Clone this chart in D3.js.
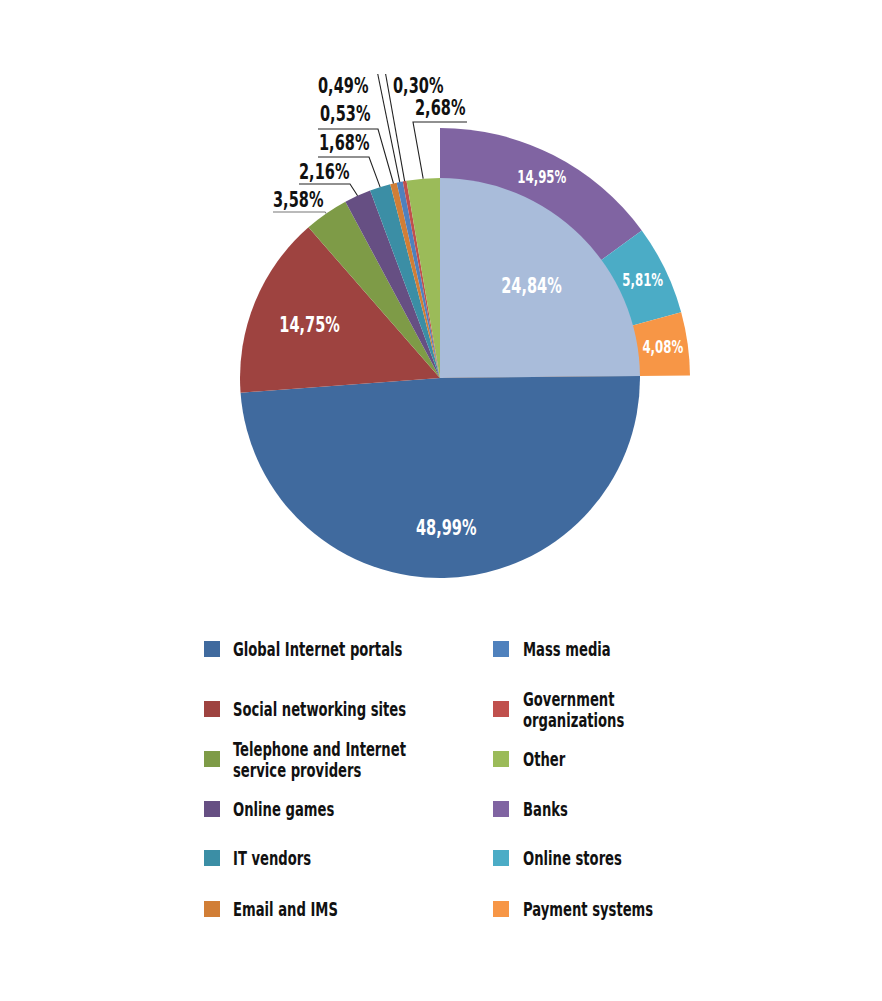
<!DOCTYPE html>
<html>
<head>
<meta charset="utf-8">
<script src="https://cdn.jsdelivr.net/npm/d3@7"></script>
<style>
  body { margin: 0; background: #ffffff; }
  svg text {
    font-family: "Liberation Sans Narrow", "Arial Narrow", "DejaVu Sans Condensed", sans-serif;
    font-weight: bold;
  }
</style>
</head>
<body>
<svg id="chart" width="882" height="1001"></svg>
<script>
// Main pie slices, clockwise after the broken-out group
let categories = ["Global Internet portals", "Social networking sites",
  "Telephone and Internet service providers", "Online games", "IT vendors",
  "Email and IMS", "Mass media", "Government organizations", "Other"];
let shares = [48.99, 14.75, 3.58, 2.16, 1.68, 0.53, 0.49, 0.30, 2.68];
let colors = ["#406A9E", "#9E4340", "#7E9B47", "#664F83", "#3B8EA5",
  "#D17E36", "#4F81BD", "#C0504D", "#9BBB59"];

// Group broken out into the outer ring (its sum is the light wedge)
let ringCategories = ["Banks", "Online stores", "Payment systems"];
let ringShares = [14.95, 5.81, 4.08];
let ringColors = ["#8064A2", "#4BACC6", "#F79646"];
let groupColor = "#A9BCDA";

// Legend columns
let legendLeft = ["Global Internet portals", "Social networking sites",
  "Telephone and Internet service providers", "Online games", "IT vendors", "Email and IMS"];
let legendRight = ["Mass media", "Government organizations", "Other", "Banks",
  "Online stores", "Payment systems"];

let svg = d3.select("#chart");
let cx = 440, cy = 378;
let radius = 200, ringRadius = 250;
let squeezeBy = 0.77; // no condensed bold font here, so narrow the glyphs

let fmt = v => d3.format(".2f")(v).replace(".", ",") + "%";
let colorOf = d3.scaleOrdinal()
  .domain(categories.concat(ringCategories))
  .range(colors.concat(ringColors));

// squeeze a text element horizontally to look like a condensed face
function squeeze(sel) {
  sel.each(function () {
    let w = this.getComputedTextLength();
    d3.select(this)
      .attr("textLength", w * squeezeBy)
      .attr("lengthAdjust", "spacingAndGlyphs");
  });
}

let groupValue = d3.sum(ringShares);
let mainData = [{ name: "group", value: groupValue }]
  .concat(categories.map((c, i) => ({ name: c, value: shares[i] })));

let pie = d3.pie().sort(null).value(d => d.value);
let arcs = pie(mainData);
let groupArc = arcs[0];

let ringPie = d3.pie().sort(null).value(d => d.value)
  .startAngle(groupArc.startAngle).endAngle(groupArc.endAngle);
let ringArcs = ringPie(ringCategories.map((c, i) => ({ name: c, value: ringShares[i] })));

let g = svg.append("g").attr("transform", "translate(" + cx + "," + cy + ")");

// outer ring first, the light wedge covers its inner part
let ringArc = d3.arc().innerRadius(0).outerRadius(ringRadius);
g.selectAll("path.ring").data(ringArcs).enter().append("path")
  .attr("class", "ring")
  .attr("d", ringArc)
  .style("fill", d => colorOf(d.data.name));

let arc = d3.arc().innerRadius(0).outerRadius(radius);
g.selectAll("path.slice").data(arcs).enter().append("path")
  .attr("class", "slice")
  .attr("d", arc)
  .style("fill", d => d.data.name == "group" ? groupColor : colorOf(d.data.name));

// labels inside the ring
let ringLabelArc = d3.arc().innerRadius(radius).outerRadius(ringRadius);
g.selectAll("text.ringLabel").data(ringArcs).enter().append("text")
  .attr("class", "ringLabel")
  .attr("transform", d => "translate(" + ringLabelArc.centroid(d) + ")")
  .attr("text-anchor", "middle")
  .attr("dy", "0.36em")
  .style("font-size", "17px")
  .style("fill", "#fff")
  .text(d => fmt(d.data.value))
  .call(squeeze);

// labels inside the big slices (distance from centre per slice)
let insideRadius = { "group": 130, "Global Internet portals": 150, "Social networking sites": 141 };
g.selectAll("text.inLabel").data(arcs.filter(d => insideRadius[d.data.name])).enter().append("text")
  .attr("class", "inLabel")
  .attr("transform", d => {
    let r = insideRadius[d.data.name];
    return "translate(" + d3.arc().innerRadius(r).outerRadius(r).centroid(d) + ")";
  })
  .attr("text-anchor", "middle")
  .attr("dy", "0.36em")
  .style("font-size", "21px")
  .style("fill", "#fff")
  .text(d => fmt(d.data.value))
  .call(squeeze);

// outside labels of the thin slices, with leader lines
let labelLayout = {
  "Telephone and Internet service providers": { x: 273, y: 207, lineY: 212, x0: 273, x1: 325, from: "right", stroke: "#777" },
  "Online games": { x: 299, y: 179, lineY: 184, x0: 299, x1: 350, from: "right" },
  "IT vendors": { x: 319, y: 150, lineY: 157, x0: 318, x1: 369, from: "right" },
  "Email and IMS": { x: 320, y: 121, lineY: 129, x0: 318, x1: 378, from: "right" },
  "Mass media": { x: 318, y: 93, topY: 74, dx: -22, from: "top" },
  "Government organizations": { x: 393, y: 93, topY: 74, dx: -19, from: "top" },
  "Other": { x: 415, y: 115, lineY: 122, x0: 413, x1: 467, from: "left" }
};
let edgeArc = d3.arc().innerRadius(radius).outerRadius(radius);
let outside = arcs.filter(d => labelLayout[d.data.name]);

outside.forEach(function (d) {
  let lay = labelLayout[d.data.name];
  let p = edgeArc.centroid(d);
  let px = p[0] + cx, py = p[1] + cy;
  let pts;
  if (lay.from == "right") {
    pts = [[lay.x0, lay.lineY], [lay.x1, lay.lineY], [px, py]];
  } else if (lay.from == "left") {
    pts = [[lay.x1, lay.lineY], [lay.x0, lay.lineY], [px, py]];
  } else {
    pts = [[px + lay.dx, lay.topY], [px, py]];
  }
  svg.append("path")
    .attr("d", d3.line()(pts))
    .style("fill", "none")
    .style("stroke", lay.stroke || "#222")
    .style("stroke-width", 1.1);
  svg.append("text")
    .attr("x", lay.x)
    .attr("y", lay.y)
    .style("font-size", "21px")
    .style("fill", "#111")
    .text(fmt(d.data.value))
    .call(squeeze);
});

// Legend
let legendRowY = [649, 709, 759, 809, 858, 909];
let legendCols = [{ items: legendLeft, sx: 204, tx: 233 }, { items: legendRight, sx: 493, tx: 523 }];
let legendFont = 19;

function wrapWords(text, maxW) {
  let probe = svg.append("text").style("font-size", legendFont + "px");
  let words = text.split(" ");
  let lines = [];
  let cur = "";
  words.forEach(function (w) {
    let test = cur ? cur + " " + w : w;
    probe.text(test);
    if (probe.node().getComputedTextLength() * squeezeBy > maxW && cur) {
      lines.push(cur);
      cur = w;
    } else {
      cur = test;
    }
  });
  lines.push(cur);
  probe.remove();
  return lines;
}

legendCols.forEach(function (col) {
  col.items.forEach(function (name, i) {
    let y = legendRowY[i];
    svg.append("rect")
      .attr("x", col.sx)
      .attr("y", y - 8)
      .attr("width", 16)
      .attr("height", 16)
      .style("fill", colorOf(name));
    let lines = wrapWords(name, 180);
    let lineH = 21;
    lines.forEach(function (ln, k) {
      svg.append("text")
        .attr("x", col.tx)
        .attr("y", y + 7 + (k - (lines.length - 1) / 2) * lineH)
        .style("font-size", legendFont + "px")
        .style("fill", "#111")
        .text(ln)
        .call(squeeze);
    });
  });
});
</script>
</body>
</html>
